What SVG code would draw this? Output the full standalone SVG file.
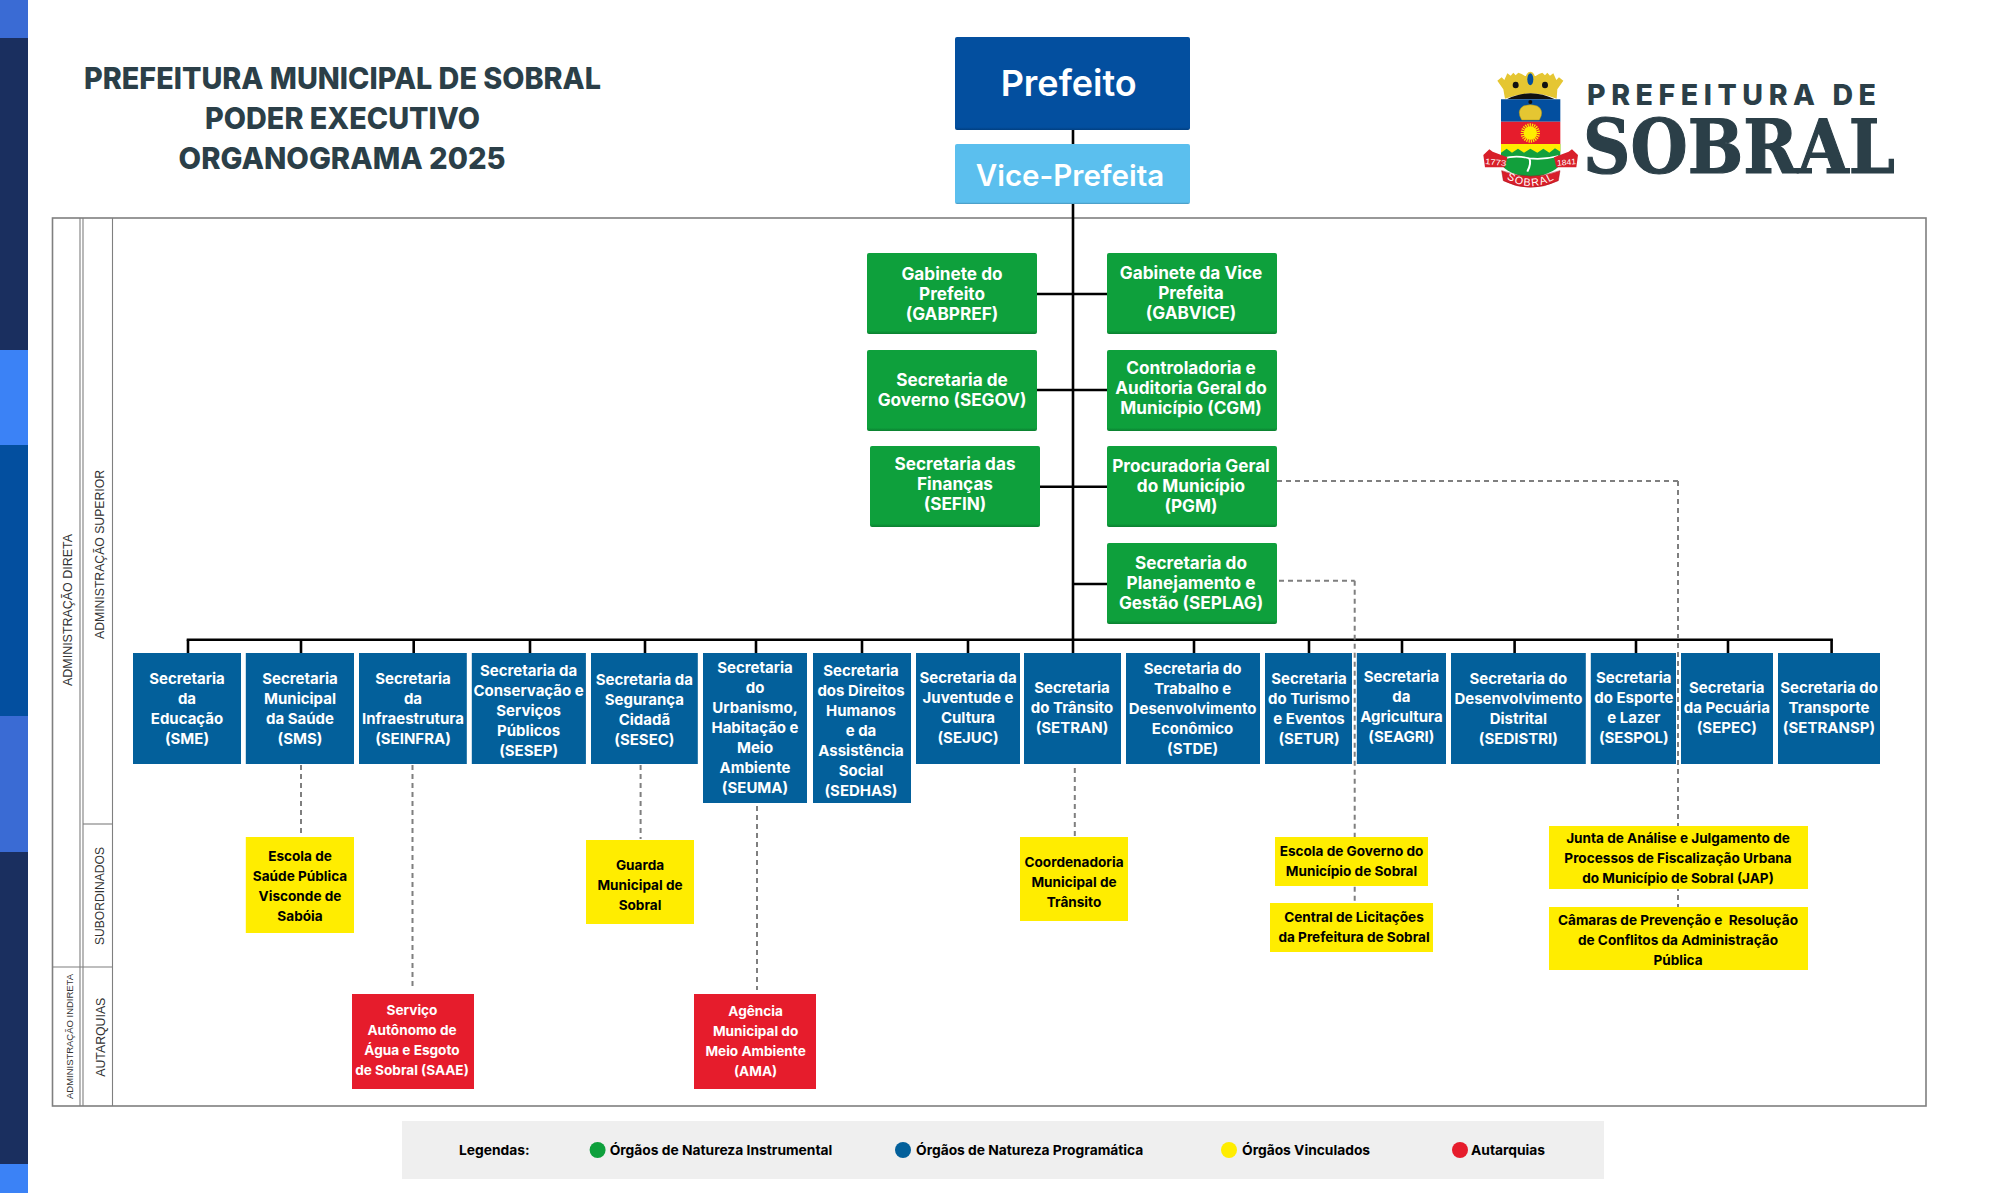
<svg xmlns="http://www.w3.org/2000/svg" width="1993" height="1193" viewBox="0 0 1993 1193">
<defs>
<linearGradient id="gg" x1="0" y1="0" x2="0" y2="1"><stop offset="0.96" stop-color="#0ea03c"/><stop offset="1" stop-color="#0b7f30"/></linearGradient>
<linearGradient id="gv" x1="0" y1="0" x2="0" y2="1"><stop offset="0.97" stop-color="#5bbfee"/><stop offset="1" stop-color="#4795bd"/></linearGradient>
<linearGradient id="gp" x1="0" y1="0" x2="0" y2="1"><stop offset="0.97" stop-color="#034f9f"/><stop offset="1" stop-color="#023f80"/></linearGradient>
<path id="arc" d="M163 382 Q241 434 322 382"/>
</defs>
<style>
text{font-family:Inter,"Noto Sans","Liberation Sans",sans-serif}
.t{text-anchor:middle;font-weight:700;fill:#fff}
.green text{font-size:17.2px;font-weight:700;fill:#fff;text-anchor:middle}
.blue rect{fill:#03609b}
.blue text{font-size:15px;font-weight:700;fill:#fff;text-anchor:middle}
.yel rect{fill:#ffed00}
.yel text{font-size:13.6px;font-weight:700;fill:#000;text-anchor:middle;white-space:pre}
.red rect{fill:#e61c2c}
.red text{font-size:13.6px;font-weight:700;fill:#fff;text-anchor:middle}
.solid line{stroke:#000;stroke-width:2.6}
.dash line{stroke:#7f7f7f;stroke-width:2;stroke-dasharray:5 4}
.frame{fill:none;stroke:#7f7f7f}
.side{font-family:"Liberation Sans",Arial,sans-serif;font-size:12.5px;fill:#333;text-anchor:start}
.leg{font-size:13.8px;font-weight:700;fill:#000}
.title{font-size:30px;font-weight:800;fill:#2b3f48}
</style>
<rect width="1993" height="1193" fill="#fff"/>
<g id="sidebar">
<rect x="0" y="0" width="28" height="38" fill="#3a6bd4"/>
<rect x="0" y="38" width="28" height="312" fill="#1a2f5f"/>
<rect x="0" y="350" width="28" height="95" fill="#3b82f6"/>
<rect x="0" y="445" width="28" height="271" fill="#034f9f"/>
<rect x="0" y="716" width="28" height="136" fill="#3a6bd4"/>
<rect x="0" y="852" width="28" height="312" fill="#1a2f5f"/>
<rect x="0" y="1164" width="28" height="29" fill="#3b82f6"/>
</g>
<g id="title">
<text class="title" x="84" y="89" textLength="517" lengthAdjust="spacingAndGlyphs">PREFEITURA MUNICIPAL DE SOBRAL</text>
<text class="title" x="205" y="129" textLength="275" lengthAdjust="spacingAndGlyphs">PODER EXECUTIVO</text>
<text class="title" x="178.6" y="169" textLength="327" lengthAdjust="spacingAndGlyphs">ORGANOGRAMA 2025</text>
</g>
<g id="frame">
<rect class="frame" x="52.5" y="218" width="1873.5" height="888" stroke-width="1.6"/>
<g class="frame" stroke-width="1.1">
<line x1="80" y1="218" x2="80" y2="1106"/>
<line x1="83" y1="218" x2="83" y2="1106"/>
<line x1="112.5" y1="218" x2="112.5" y2="1106"/>
<line x1="83" y1="824" x2="112.5" y2="824"/>
<line x1="52.5" y1="967" x2="112.5" y2="967"/>
</g>
<text class="side" transform="translate(72.4 686) rotate(-90)" textLength="152" lengthAdjust="spacingAndGlyphs">ADMINISTRAÇÃO DIRETA</text>
<text class="side" transform="translate(104 639) rotate(-90)" textLength="169" lengthAdjust="spacingAndGlyphs">ADMINISTRAÇÃO SUPERIOR</text>
<text class="side" transform="translate(104.4 945) rotate(-90)" textLength="98" lengthAdjust="spacingAndGlyphs">SUBORDINADOS</text>
<text class="side" style="font-size:9.5px" transform="translate(73 1099) rotate(-90)" textLength="125" lengthAdjust="spacingAndGlyphs">ADMINISTRAÇÃO INDIRETA</text>
<text class="side" transform="translate(104.6 1076.7) rotate(-90)" textLength="79" lengthAdjust="spacingAndGlyphs">AUTARQUIAS</text>
</g>
<g id="connectors">
<g class="solid">
<line x1="1073" y1="130" x2="1073" y2="653"/>
<line x1="1037" y1="294" x2="1107" y2="294"/>
<line x1="1037" y1="390" x2="1107" y2="390"/>
<line x1="1040" y1="486.7" x2="1107" y2="486.7"/>
<line x1="1073" y1="584" x2="1107" y2="584"/>
<line x1="186.7" y1="639.7" x2="1832.9" y2="639.7"/>
<line x1="188" y1="639.7" x2="188" y2="653"/>
<line x1="301" y1="639.7" x2="301" y2="653"/>
<line x1="413.7" y1="639.7" x2="413.7" y2="653"/>
<line x1="530" y1="639.7" x2="530" y2="653"/>
<line x1="645" y1="639.7" x2="645" y2="653"/>
<line x1="756" y1="639.7" x2="756" y2="653"/>
<line x1="862" y1="639.7" x2="862" y2="653"/>
<line x1="968" y1="639.7" x2="968" y2="653"/>
<line x1="1194" y1="639.7" x2="1194" y2="653"/>
<line x1="1309" y1="639.7" x2="1309" y2="653"/>
<line x1="1402" y1="639.7" x2="1402" y2="653"/>
<line x1="1514.6" y1="639.7" x2="1514.6" y2="653"/>
<line x1="1636" y1="639.7" x2="1636" y2="653"/>
<line x1="1728" y1="639.7" x2="1728" y2="653"/>
<line x1="1831.6" y1="639.7" x2="1831.6" y2="653"/>
</g>
<g class="dash">
<line x1="1277" y1="481" x2="1678" y2="481"/>
<line x1="1678" y1="481" x2="1678" y2="907"/>
<line x1="1279" y1="580.7" x2="1354.7" y2="580.7"/>
<line x1="1354.7" y1="580.7" x2="1354.7" y2="903"/>
<line x1="301" y1="765" x2="301" y2="833"/>
<line x1="412.5" y1="765" x2="412.5" y2="990"/>
<line x1="640.6" y1="765" x2="640.6" y2="839"/>
<line x1="757" y1="806" x2="757" y2="990"/>
<line x1="1074.8" y1="768" x2="1074.8" y2="836"/>
</g>
</g>
<g id="prefeito"><rect x="955" y="37" width="235" height="93" rx="2" fill="url(#gp)"/><text class="t" x="1068.7" y="96" style="font-size:36px;font-weight:600">Prefeito</text></g>
<g id="vice"><rect x="955" y="144" width="235" height="60" rx="2" fill="url(#gv)"/><text class="t" x="1070" y="185.5" style="font-size:29.5px;font-weight:600">Vice-Prefeita</text></g>
<g class="green">
<g id="gabpref"><rect x="867" y="253" width="170" height="81" rx="2" fill="url(#gg)"/><text x="952" y="280">Gabinete do</text><text x="952" y="300">Prefeito</text><text x="952" y="320">(GABPREF)</text></g>
<g id="gabvice"><rect x="1107" y="253" width="170" height="81" rx="2" fill="url(#gg)"/><text x="1191" y="279">Gabinete da Vice</text><text x="1191" y="299">Prefeita</text><text x="1191" y="319">(GABVICE)</text></g>
<g id="segov"><rect x="867" y="350" width="170" height="81" rx="2" fill="url(#gg)"/><text x="952" y="386">Secretaria de</text><text x="952" y="406">Governo (SEGOV)</text></g>
<g id="cgm"><rect x="1107" y="350" width="170" height="81" rx="2" fill="url(#gg)"/><text x="1191" y="374">Controladoria e</text><text x="1191" y="394">Auditoria Geral do</text><text x="1191" y="414">Município (CGM)</text></g>
<g id="sefin"><rect x="870" y="446" width="170" height="81" rx="2" fill="url(#gg)"/><text x="955" y="470">Secretaria das</text><text x="955" y="490">Finanças</text><text x="955" y="510">(SEFIN)</text></g>
<g id="pgm"><rect x="1107" y="446" width="170" height="81" rx="2" fill="url(#gg)"/><text x="1191" y="472">Procuradoria Geral</text><text x="1191" y="492">do Município</text><text x="1191" y="512">(PGM)</text></g>
<g id="seplag"><rect x="1107" y="543" width="170" height="81" rx="2" fill="url(#gg)"/><text x="1191" y="569">Secretaria do</text><text x="1191" y="589">Planejamento e</text><text x="1191" y="609">Gestão (SEPLAG)</text></g>
</g>
<g class="blue">
<g id="sme"><rect x="133" y="653" width="108" height="111"/><text x="187" y="684.3">Secretaria</text><text x="187" y="704.3">da</text><text x="187" y="724.3">Educação</text><text x="187" y="744.3">(SME)</text></g>
<g id="sms"><rect x="245.8" y="653" width="108.2" height="111"/><text x="300" y="684.3">Secretaria</text><text x="300" y="704.3">Municipal</text><text x="300" y="724.3">da Saúde</text><text x="300" y="744.3">(SMS)</text></g>
<g id="seinfra"><rect x="359" y="653" width="107.8" height="111"/><text x="413" y="684.3">Secretaria</text><text x="413" y="704.3">da</text><text x="413" y="724.3">Infraestrutura</text><text x="413" y="744.3">(SEINFRA)</text></g>
<g id="sesep"><rect x="471.8" y="653" width="114.1" height="111"/><text x="528.6" y="676">Secretaria da</text><text x="528.6" y="696">Conservação e</text><text x="528.6" y="716">Serviços</text><text x="528.6" y="736">Públicos</text><text x="528.6" y="756">(SESEP)</text></g>
<g id="sesec"><rect x="591" y="653" width="106.8" height="111"/><text x="644.4" y="685">Secretaria da</text><text x="644.4" y="705">Segurança</text><text x="644.4" y="725">Cidadã</text><text x="644.4" y="745">(SESEC)</text></g>
<g id="seuma"><rect x="703" y="653" width="104" height="150"/><text x="755" y="673">Secretaria</text><text x="755" y="693">do</text><text x="755" y="713">Urbanismo,</text><text x="755" y="733">Habitação e</text><text x="755" y="753">Meio</text><text x="755" y="773">Ambiente</text><text x="755" y="793">(SEUMA)</text></g>
<g id="sedhas"><rect x="813" y="653" width="98" height="150"/><text x="861" y="676">Secretaria</text><text x="861" y="696">dos Direitos</text><text x="861" y="716">Humanos</text><text x="861" y="736">e da</text><text x="861" y="756">Assistência</text><text x="861" y="776">Social</text><text x="861" y="796">(SEDHAS)</text></g>
<g id="sejuc"><rect x="916" y="653" width="104" height="111"/><text x="968" y="683">Secretaria da</text><text x="968" y="703">Juventude e</text><text x="968" y="723">Cultura</text><text x="968" y="743">(SEJUC)</text></g>
<g id="setran"><rect x="1024" y="653" width="97" height="111"/><text x="1072" y="693">Secretaria</text><text x="1072" y="713">do Trânsito</text><text x="1072" y="733">(SETRAN)</text></g>
<g id="stde"><rect x="1126" y="653" width="134" height="111"/><text x="1192.6" y="674">Secretaria do</text><text x="1192.6" y="694">Trabalho e</text><text x="1192.6" y="714">Desenvolvimento</text><text x="1192.6" y="734">Econômico</text><text x="1192.6" y="754">(STDE)</text></g>
<g id="setur"><rect x="1265" y="653" width="87" height="111"/><text x="1309" y="684">Secretaria</text><text x="1309" y="704">do Turismo</text><text x="1309" y="724">e Eventos</text><text x="1309" y="744">(SETUR)</text></g>
<g id="seagri"><rect x="1356.8" y="653" width="89.2" height="111"/><text x="1401.4" y="682">Secretaria</text><text x="1401.4" y="702">da</text><text x="1401.4" y="722">Agricultura</text><text x="1401.4" y="742">(SEAGRI)</text></g>
<g id="sedistri"><rect x="1451" y="653" width="134.8" height="111"/><text x="1518.4" y="684">Secretaria do</text><text x="1518.4" y="704">Desenvolvimento</text><text x="1518.4" y="724">Distrital</text><text x="1518.4" y="744">(SEDISTRI)</text></g>
<g id="sespol"><rect x="1590.8" y="653" width="85.2" height="111"/><text x="1633.8" y="683">Secretaria</text><text x="1633.8" y="703">do Esporte</text><text x="1633.8" y="723">e Lazer</text><text x="1633.8" y="743">(SESPOL)</text></g>
<g id="sepec"><rect x="1681" y="653" width="92" height="111"/><text x="1726.8" y="693">Secretaria</text><text x="1726.8" y="713">da Pecuária</text><text x="1726.8" y="733">(SEPEC)</text></g>
<g id="setransp"><rect x="1778" y="653" width="102" height="111"/><text x="1829" y="693">Secretaria do</text><text x="1829" y="713">Transporte</text><text x="1829" y="733">(SETRANSP)</text></g>
</g>
<g class="yel">
<g id="esp"><rect x="245.8" y="837" width="108.2" height="96"/><text x="300" y="861">Escola de</text><text x="300" y="881">Saúde Pública</text><text x="300" y="901">Visconde de</text><text x="300" y="921">Sabóia</text></g>
<g id="guarda"><rect x="586" y="840" width="108" height="84"/><text x="640" y="870">Guarda</text><text x="640" y="890">Municipal de</text><text x="640" y="910">Sobral</text></g>
<g id="cmt"><rect x="1020" y="837" width="108" height="84"/><text x="1074" y="867">Coordenadoria</text><text x="1074" y="887">Municipal de</text><text x="1074" y="907">Trânsito</text></g>
<g id="escgov"><rect x="1275" y="837" width="153" height="49"/><text x="1351.5" y="856">Escola de Governo do</text><text x="1351.5" y="876">Município de Sobral</text></g>
<g id="central"><rect x="1270" y="903" width="163" height="49"/><text x="1354" y="922">Central de Licitações</text><text x="1354" y="942">da Prefeitura de Sobral</text></g>
<g id="jap"><rect x="1549" y="826" width="259" height="63"/><text x="1678" y="843">Junta de Análise e Julgamento de</text><text x="1678" y="863">Processos de Fiscalização Urbana</text><text x="1678" y="883">do Município de Sobral (JAP)</text></g>
<g id="camaras"><rect x="1549" y="907" width="259" height="63"/><text x="1678" y="925">Câmaras de Prevenção e  Resolução</text><text x="1678" y="945">de Conflitos da Administração</text><text x="1678" y="965">Pública</text></g>
</g>
<g class="red">
<g id="saae"><rect x="352" y="994" width="122" height="95"/><text x="412" y="1015">Serviço</text><text x="412" y="1035">Autônomo de</text><text x="412" y="1055">Água e Esgoto</text><text x="412" y="1075">de Sobral (SAAE)</text></g>
<g id="ama"><rect x="694" y="994" width="122" height="95"/><text x="755.6" y="1016">Agência</text><text x="755.6" y="1036">Municipal do</text><text x="755.6" y="1056">Meio Ambiente</text><text x="755.6" y="1076">(AMA)</text></g>
</g>
<g id="legend">
<rect x="402" y="1121" width="1202" height="58" fill="#efefef"/>
<text class="leg" x="459" y="1155">Legendas:</text>
<circle cx="597.6" cy="1150" r="8" fill="#0ea03c"/><text class="leg" x="609.7" y="1155">Órgãos de Natureza Instrumental</text>
<circle cx="903" cy="1150" r="8" fill="#03609b"/><text class="leg" x="916" y="1155">Órgãos de Natureza Programática</text>
<circle cx="1229" cy="1150" r="8" fill="#ffed00"/><text class="leg" x="1242" y="1155">Órgãos Vinculados</text>
<circle cx="1460" cy="1150" r="8" fill="#e61c2c"/><text class="leg" x="1471" y="1155">Autarquias</text>
</g>
<g id="logo">
<g id="crest" transform="translate(1450 50) scale(.3333)">
<path d="M142 92L155 82L163 90L172 70L182 77L190 68L197 76L205 68L215 72L225 78H257L267 72L277 68L285 76L292 68L300 77L310 70L319 90L327 82L340 92L322 118L320 146Q241 115 165 146L160 118Z" fill="#e5c632"/>
<ellipse cx="241" cy="88" rx="15" ry="23" fill="#e5c632"/><ellipse cx="241" cy="88" rx="9" ry="18" fill="#034f9f"/>
<ellipse cx="197" cy="105" rx="9" ry="10" fill="#111"/><ellipse cx="285" cy="105" rx="9" ry="10" fill="#111"/>
<path d="M170 148Q241 112 315 148Z" fill="#111"/>
<path d="M153 148H331V215H153Z" fill="#034f9f"/>
<path d="M153 215H331V282H153Z" fill="#e61c2c"/>
<path d="M153 282H331V335Q331 365 241 385Q153 365 153 335Z" fill="#12a03c"/>
<path d="M153 282H331V305L315 295L298 308L280 296L262 308L241 296L222 308L204 296L186 308L170 296L153 308Z" fill="#ffed00"/>
<path d="M160 325Q200 315 238 325Q280 330 325 318" fill="none" stroke="#fff" stroke-width="5"/>
<path d="M238 325Q245 340 232 365" fill="none" stroke="#fff" stroke-width="6"/>
<path d="M215 210Q198 182 220 168Q241 160 262 168Q285 182 268 210Z" fill="#e5c632" stroke="#a88d1a" stroke-width="1.5"/>
<circle cx="241" cy="156" r="6" fill="#111"/>
<circle cx="241" cy="249" r="20" fill="#ffed00"/>
<circle cx="241" cy="249" r="24" fill="none" stroke="#ffed00" stroke-width="10" stroke-dasharray="3.5 3"/>
<path d="M100 315L118 298L128 305L172 322L165 352L105 352Z" fill="#d81f2a"/>
<path d="M384 315L366 298L356 305L312 322L319 352L379 352Z" fill="#d81f2a"/>
<path d="M155 362Q241 395 330 362L325 392Q241 432 160 392Z" fill="#d81f2a" stroke="#a5101c" stroke-width="1.5"/>
<text x="105" y="345" style="font-size:24px;fill:#fff;font-family:'Liberation Sans',sans-serif" textLength="63" lengthAdjust="spacingAndGlyphs" transform="rotate(5 137 345)">1773</text>
<text x="322" y="345" style="font-size:24px;fill:#fff;font-family:'Liberation Sans',sans-serif" textLength="57" lengthAdjust="spacingAndGlyphs" transform="rotate(-5 350 345)">1841</text>
<text style="font-size:32px;fill:#fff;font-family:'Liberation Sans',sans-serif;text-anchor:middle;letter-spacing:4px"><textPath href="#arc" startOffset="50%">SOBRAL</textPath></text>
</g>
<text x="1587" y="105" style="font-size:28.5px;font-weight:800;fill:#2b3f48" textLength="289">PREFEITURA DE</text>
<text x="1583" y="172.7" style="font-family:'DejaVu Serif',serif;font-size:75.5px;font-weight:700;fill:#2b3f48;stroke:#2b3f48;stroke-width:1.2" textLength="312" lengthAdjust="spacingAndGlyphs">SOBRAL</text>
</g>
</svg>
